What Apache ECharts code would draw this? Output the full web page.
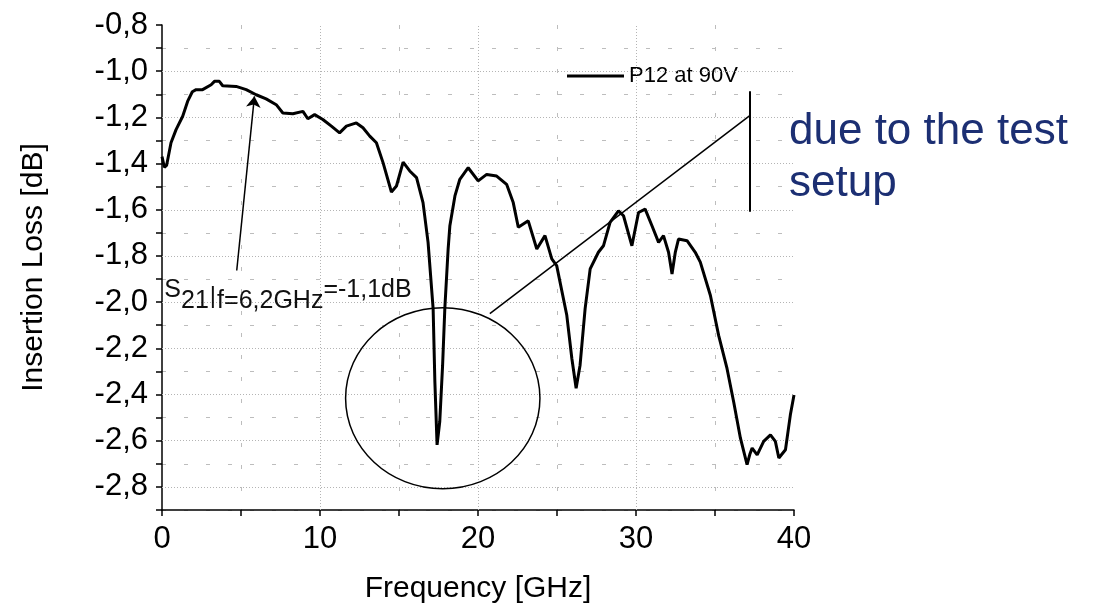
<!DOCTYPE html>
<html>
<head>
<meta charset="utf-8">
<script src="https://cdn.jsdelivr.net/npm/echarts@6/dist/echarts.min.js"></script>
<style>
  html, body { margin: 0; padding: 0; background: #fff; }
  #chart { width: 1097px; height: 609px; }
</style>
</head>
<body>
<div id="chart"></div>
<script>
const freq = [0, 0.15, 0.29, 0.57, 0.89, 1.31, 1.62, 1.92, 2.16, 2.57, 3.11, 3.32, 3.63, 3.84, 4.69, 5.33,
  5.96, 6.59, 7.23, 7.65, 8.28, 8.92, 9.23, 9.66, 10.18, 10.72, 11.24, 11.67, 12.30, 12.72, 13.15, 13.57,
  13.99, 14.52, 14.84, 15.26, 15.68, 16.11, 16.52, 16.84, 17.16, 17.27, 17.41, 17.58, 17.76, 17.90, 18.11,
  18.22, 18.54, 18.85, 19.38, 19.49, 20.01, 20.55, 21.18, 21.81, 22.23, 22.55, 23.18, 23.72, 24.24, 24.67,
  24.98, 25.62, 25.94, 26.21, 26.46, 26.78, 27.10, 27.62, 27.94, 28.36, 28.89, 29.21, 29.74, 30.16, 30.58,
  31.01, 31.43, 31.74, 32.06, 32.28, 32.49, 32.69, 33.23, 33.75, 34.07, 34.71, 35.23, 35.76, 36.18, 36.61,
  37.03, 37.2, 37.35, 37.67, 38.08, 38.51, 38.82, 39.04, 39.46, 39.77, 40.0];
const loss = [-1.37, -1.416, -1.408, -1.31, -1.253, -1.195, -1.131, -1.089, -1.08, -1.08, -1.059, -1.044, -1.044, -1.063, -1.066, -1.08,
  -1.102, -1.12, -1.145, -1.181, -1.184, -1.174, -1.206, -1.188, -1.209, -1.238, -1.267, -1.238, -1.224, -1.245, -1.281, -1.31,
  -1.396, -1.523, -1.497, -1.394, -1.432, -1.461, -1.569, -1.741, -2.028, -2.344, -2.618, -2.517, -2.273, -2.028, -1.77,
  -1.669, -1.54, -1.468, -1.418, -1.411, -1.475, -1.447, -1.454, -1.49, -1.569, -1.676, -1.648, -1.77, -1.712, -1.813,
  -1.842, -2.057, -2.244, -2.373, -2.273, -2.028, -1.856, -1.784, -1.756, -1.655, -1.605, -1.626, -1.756, -1.612, -1.597,
  -1.669, -1.741, -1.712, -1.784, -1.878, -1.783, -1.727, -1.734, -1.784, -1.827, -1.971, -2.144, -2.287, -2.431, -2.589,
  -2.704, -2.66, -2.632, -2.661, -2.603, -2.575, -2.603, -2.675, -2.639, -2.488, -2.402];

const majorX = [10, 20, 30];
const majorY = [-1.0, -1.2, -1.4, -1.6, -1.8, -2.0, -2.2, -2.4, -2.6, -2.8];

// annotations, in data units (GHz, dB)
const arrowLine = [[4.73, -1.863], [5.85, -1.109]];
const pointerLine = [[20.75, -2.05], [37.2, -1.192]];
const bracketLine = [[37.2, -1.087], [37.2, -1.609]];
const circleCenter = [17.77, -2.416];
const circleRadius = [6.15, 0.392];
const noteAnchor = [0.15, -1.895];

const FONT = '"Liberation Sans", Arial, sans-serif';

const chart = echarts.init(document.getElementById('chart'));

const dotted = { color: '#b4b4b4', type: [1, 2], width: 1 };

const option = {
  animation: false,
  backgroundColor: '#fff',
  textStyle: { fontFamily: FONT },
  grid: { left: 162, right: 303, top: 25, bottom: 97, containLabel: false },
  legend: {
    data: ['P12 at 90V'],
    left: 562,
    top: 60,
    icon: 'rect',
    itemWidth: 57,
    itemHeight: 3,
    textStyle: { fontSize: 22, color: '#000', fontFamily: FONT }
  },
  xAxis: {
    type: 'value',
    min: 0,
    max: 40,
    interval: 5,
    name: 'Frequency [GHz]',
    nameLocation: 'middle',
    nameGap: 64,
    nameTextStyle: { fontSize: 30, color: '#000', fontFamily: FONT },
    axisLine: { lineStyle: { color: '#000', width: 1.5 } },
    axisTick: { length: 6, lineStyle: { color: '#000', width: 1.5 } },
    axisLabel: {
      fontSize: 31, color: '#000', margin: 14, fontFamily: FONT,
      formatter: v => (v % 10 === 0 ? String(v) : '')
    },
    splitLine: { show: true, lineStyle: { color: ['rgba(0,0,0,0)', '#bdbdbd'], type: [4, 18], width: 1 } }
  },
  yAxis: {
    type: 'value',
    min: -2.9,
    max: -0.8,
    interval: 0.1,
    name: 'Insertion Loss [dB]',
    nameLocation: 'middle',
    nameGap: 113,
    nameTextStyle: { fontSize: 30, color: '#000', fontFamily: FONT },
    axisLine: { show: true, lineStyle: { color: '#000', width: 1.5 } },
    axisTick: { show: true, length: 6, lineStyle: { color: '#000', width: 1.5 } },
    axisLabel: {
      fontSize: 31, color: '#000', margin: 14, fontFamily: FONT, showMinLabel: true, showMaxLabel: true,
      formatter: v => (Math.round(v * 10) % 2 === 0 ? v.toFixed(1).replace('.', ',') : '')
    },
    splitLine: { show: true, lineStyle: { color: ['#bdbdbd', 'rgba(0,0,0,0)'], type: [4, 18], width: 1 } }
  },
  series: [
    {
      name: 'P12 at 90V',
      type: 'line',
      data: freq.map((f, i) => [f, loss[i]]),
      showSymbol: false,
      color: '#000',
      lineStyle: { color: '#000', width: 3 },
      z: 5,
      markLine: {
        silent: true,
        symbol: 'none',
        label: { show: false },
        animation: false,
        data: majorX.map(x => ({ xAxis: x, lineStyle: dotted }))
          .concat(majorY.map(y => ({ yAxis: y, lineStyle: dotted })))
      }
    },
    {
      name: 'annotations',
      type: 'line',
      data: [],
      z: 6,
      markLine: {
        silent: true,
        symbol: 'none',
        symbolSize: 11,
        label: { show: false },
        animation: false,
        lineStyle: { color: '#000', width: 1.5, type: 'solid' },
        data: [
          [{ coord: arrowLine[0], symbol: 'none' }, { coord: arrowLine[1], symbol: 'arrow' }],
          [{ coord: pointerLine[0] }, { coord: pointerLine[1] }],
          [{ coord: bracketLine[0], lineStyle: { width: 2 } }, { coord: bracketLine[1] }]
        ]
      }
    }
  ]
};

chart.setOption(option);

const c = chart.convertToPixel({ gridIndex: 0 }, circleCenter);
const e = chart.convertToPixel({ gridIndex: 0 }, [circleCenter[0] + circleRadius[0], circleCenter[1] + circleRadius[1]]);
const t = chart.convertToPixel({ gridIndex: 0 }, noteAnchor);

chart.setOption({
  graphic: [
    {
      type: 'ellipse',
      shape: { cx: c[0], cy: c[1], rx: e[0] - c[0], ry: c[1] - e[1] },
      style: { fill: 'none', stroke: '#000', lineWidth: 1.5 },
      z: 100
    },
    {
      type: 'text',
      x: t[0],
      y: t[1],
      z: 100,
      style: {
        text: '{m|S}{s|21}{p||}{s|f=6,2GHz}{m|=-1,1dB}',
        fill: '#111',
        font: '25px ' + FONT,
        rich: {
          m: { fontSize: 25, fontFamily: FONT, lineHeight: 36, verticalAlign: 'top', fill: '#111' },
          s: { fontSize: 25, fontFamily: FONT, lineHeight: 36, verticalAlign: 'bottom', fill: '#111' },
          p: { fontSize: 24, fontFamily: FONT, lineHeight: 36, verticalAlign: 'middle', fill: '#111', padding: [0, 1, 0, 1] }
        }
      }
    },
    {
      type: 'text',
      left: 789,
      top: 106,
      z: 100,
      style: {
        text: 'due to the test\nsetup',
        fill: '#1c2f73',
        font: '44px ' + FONT,
        lineHeight: 52
      }
    }
  ]
});
</script>
</body>
</html>
